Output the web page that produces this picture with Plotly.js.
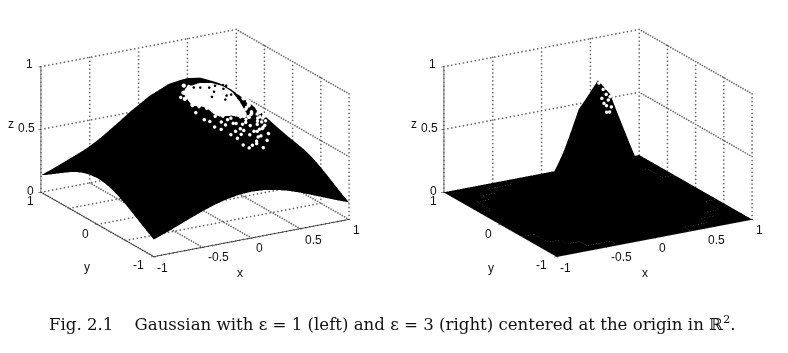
<!DOCTYPE html>
<html><head><meta charset="utf-8"><script src="https://cdn.plot.ly/plotly-3.0.1.min.js"></script>
<style>html,body{margin:0;background:#fff}</style></head><body><div id="c" style="width:788px;height:353px"></div>
<script>
const gridX=[-1,-0.875,-0.75,-0.625,-0.5,-0.375,-0.25,-0.125,0,0.125,0.25,0.375,0.5,0.625,0.75,0.875,1];
const gridY=gridX;
const zLeft=[
[.135,.171,.210,.249,.287,.320,.346,.362,.368,.362,.346,.320,.287,.249,.210,.171,.135],
[.171,.216,.265,.315,.362,.404,.437,.458,.465,.458,.437,.404,.362,.315,.265,.216,.171],
[.210,.265,.325,.386,.444,.495,.535,.561,.570,.561,.535,.495,.444,.386,.325,.265,.210],
[.249,.315,.386,.458,.527,.588,.636,.667,.677,.667,.636,.588,.527,.458,.386,.315,.249],
[.287,.362,.444,.527,.607,.677,.732,.767,.779,.767,.732,.677,.607,.527,.444,.362,.287],
[.320,.404,.495,.588,.677,.755,.816,.856,.869,.856,.816,.755,.677,.588,.495,.404,.320],
[.346,.437,.535,.636,.732,.816,.882,.925,.939,.925,.882,.816,.732,.636,.535,.437,.346],
[.362,.458,.561,.667,.767,.856,.925,.970,.985,.970,.925,.856,.767,.667,.561,.458,.362],
[.368,.465,.570,.677,.779,.869,.939,.985,1.00,.985,.939,.869,.779,.677,.570,.465,.368],
[.362,.458,.561,.667,.767,.856,.925,.970,.985,.970,.925,.856,.767,.667,.561,.458,.362],
[.346,.437,.535,.636,.732,.816,.882,.925,.939,.925,.882,.816,.732,.636,.535,.437,.346],
[.320,.404,.495,.588,.677,.755,.816,.856,.869,.856,.816,.755,.677,.588,.495,.404,.320],
[.287,.362,.444,.527,.607,.677,.732,.767,.779,.767,.732,.677,.607,.527,.444,.362,.287],
[.249,.315,.386,.458,.527,.588,.636,.667,.677,.667,.636,.588,.527,.458,.386,.315,.249],
[.210,.265,.325,.386,.444,.495,.535,.561,.570,.561,.535,.495,.444,.386,.325,.265,.210],
[.171,.216,.265,.315,.362,.404,.437,.458,.465,.458,.437,.404,.362,.315,.265,.216,.171],
[.135,.171,.210,.249,.287,.320,.346,.362,.368,.362,.346,.320,.287,.249,.210,.171,.135]];
const zRight=[
[0,0,0,0,0,0,0,0,0,0,0,0,0,0,0,0,0],
[0,0,0,0,0,0,.001,.001,.001,.001,.001,0,0,0,0,0,0],
[0,0,0,0,.001,.002,.003,.005,.006,.005,.003,.002,.001,0,0,0,0],
[0,0,0,.001,.003,.008,.017,.026,.030,.026,.017,.008,.003,.001,0,0,0],
[0,0,.001,.003,.011,.030,.060,.091,.105,.091,.060,.030,.011,.003,.001,0,0],
[0,0,.002,.008,.030,.080,.161,.245,.282,.245,.161,.080,.030,.008,.002,0,0],
[0,.001,.003,.017,.060,.161,.325,.495,.570,.495,.325,.161,.060,.017,.003,.001,0],
[0,.001,.005,.026,.091,.245,.495,.755,.869,.755,.495,.245,.091,.026,.005,.001,0],
[0,.001,.006,.030,.105,.282,.570,.869,1.00,.869,.570,.282,.105,.030,.006,.001,0],
[0,.001,.005,.026,.091,.245,.495,.755,.869,.755,.495,.245,.091,.026,.005,.001,0],
[0,.001,.003,.017,.060,.161,.325,.495,.570,.495,.325,.161,.060,.017,.003,.001,0],
[0,0,.002,.008,.030,.080,.161,.245,.282,.245,.161,.080,.030,.008,.002,0,0],
[0,0,.001,.003,.011,.030,.060,.091,.105,.091,.060,.030,.011,.003,.001,0,0],
[0,0,0,.001,.003,.008,.017,.026,.030,.026,.017,.008,.003,.001,0,0,0],
[0,0,0,0,.001,.002,.003,.005,.006,.005,.003,.002,.001,0,0,0,0],
[0,0,0,0,0,0,.001,.001,.001,.001,.001,0,0,0,0,0,0],
[0,0,0,0,0,0,0,0,0,0,0,0,0,0,0,0,0]];
// the bright core of the scanned highlight on the left surface: 1 = white
const glowLeft=[
[0,0,0,0,0,0,0,0,0,0,0,0,0,0,0,0,0],[0,0,0,0,0,0,0,0,0,0,0,0,0,0,0,0,0],[0,0,0,0,0,0,0,0,0,0,0,0,0,0,0,0,0],
[0,0,0,0,0,0,0,0,0,0,0,0,0,0,0,0,0],[0,0,0,0,0,0,0,0,0,0,0,0,0,0,0,0,0],
[0,0,0,0,0,0,0,0,1,1,1,0,0,0,0,0,0],
[0,0,0,0,0,0,0,1,1,1,1,0,0,0,0,0,0],
[0,0,0,0,0,0,0,1,1,1,1,0,0,0,0,0,0],
[0,0,0,0,0,0,0,0,0,0,0,0,0,0,0,0,0],
[0,0,0,0,0,0,0,0,0,0,0,0,0,0,0,0,0],[0,0,0,0,0,0,0,0,0,0,0,0,0,0,0,0,0],[0,0,0,0,0,0,0,0,0,0,0,0,0,0,0,0,0],
[0,0,0,0,0,0,0,0,0,0,0,0,0,0,0,0,0],[0,0,0,0,0,0,0,0,0,0,0,0,0,0,0,0,0],[0,0,0,0,0,0,0,0,0,0,0,0,0,0,0,0,0],
[0,0,0,0,0,0,0,0,0,0,0,0,0,0,0,0,0],[0,0,0,0,0,0,0,0,0,0,0,0,0,0,0,0,0]];
// scattered pale specks around that core
const speckTopX=[-.15,-.05,.05,.44,-.2,-.12,-.04,.38,.46,-.22,-.13,-.05,.37,.44,.52,-.2,-.12,-.04,.04,.4,.48,.55];
const speckTopY=[-.06,-.03,-.07,-.05,-.14,-.1,-.13,-.1,-.13,-.2,-.23,-.18,-.22,-.18,-.21,-.3,-.26,-.29,-.37,-.26,-.3,-.27];
const speckTopZ=[.975,.995,.995,.822,.947,.971,.984,.853,.798,.916,.945,.958,.838,.791,.733,.889,.912,.923,.923,.788,.735,.684];
const speckLowX=[-.2,-.1,-.02,.07,.15,.22,.3,.37,.45,.52,-.16,-.06,.04,.13,.21,.3,.38,.46,-.1,0,.09,.18,.27,.36,.44,.02,.12,.22,.3,.38,.1,.2,.3,-.15,-.06,.03,.11,.19,.26,.34,.41,.49,-.12,-.01,.09,.17,.25,.34,.42,-.05,.05,.14,.23,.32,.4,.07,.17,.26,.34,.15,.25,-.24,-.18,-.1,-.06,0,.08,.16,.24,.3,.36,.44,.5,.52,.42,.4,.34,.02,.12,.2,.28,.36,.44,-.02,.08];
const speckLowY=[-.36,-.38,-.35,-.37,-.36,-.35,-.38,-.36,-.37,-.35,-.44,-.46,-.43,-.45,-.44,-.42,-.45,-.44,-.52,-.54,-.52,-.53,-.51,-.52,-.54,-.6,-.61,-.59,-.6,-.62,-.68,-.67,-.69,-.33,-.39,-.32,-.4,-.34,-.39,-.33,-.4,-.35,-.47,-.41,-.48,-.42,-.47,-.4,-.48,-.55,-.49,-.56,-.5,-.55,-.5,-.63,-.57,-.64,-.58,-.7,-.66,-.16,-.22,-.3,-.36,-.4,-.44,-.36,-.4,-.44,-.38,-.34,-.28,-.24,-.22,-.16,-.1,-.46,-.52,-.46,-.56,-.48,-.42,-.5,-.58];
const speckLowZ=[.844,.869,.878,.874,.859,.837,.803,.766,.717,.670,.803,.820,.822,.810,.788,.753,.713,.666,.756,.763,.757,.739,.710,.670,.629,.698,.688,.665,.638,.604,.624,.605,.576,.877,.856,.902,.842,.859,.803,.799,.720,.696,.790,.845,.788,.815,.753,.759,.666,.737,.784,.717,.739,.667,.664,.669,.702,.621,.636,.599,.608,.920,.923,.905,.875,.852,.819,.856,.804,.753,.760,.733,.720,.720,.799,.830,.882,.809,.752,.777,.676,.698,.691,.779,.710];
const speckDarkX=[.05,.15,.2,.1,0,-.05,.12,.08,.22,.17,-.1,.25,.03];
const speckDarkY=[-.25,-.3,-.15,-.18,-.3,-.18,-.33,-.1,-.26,-.21,-.15,-.12,-.2];
const speckDarkZ=[.935,.903,.94,.958,.914,.965,.883,.984,.89,.93,.966,.92,.958];
const speckRightX=[.05,.02,-.02,.06,.08,.04,0,.06,.02,-.02,.02,-.01,.05,-.03,.03,0];
const speckRightY=[-.05,-.04,-.05,-.03,-.06,-.08,-.09,-.11,-.11,-.14,-.17,-.17,-.15,-.12,-.13,-.15];
const speckRightZ=[.956,.982,.974,.960,.914,.931,.930,.868,.893,.835,.768,.770,.799,.871,.852,.816];
const xTicks=[-1,-0.5,0,0.5,1];
const yTicks=[-1,0,1];
const zTicks=[0,0.5,1];
const xShift=[9,16,8,13,7];
const xDrop=[11,10,10,11,11];
const yShift=[-15,-12,-10];
const yDrop=[8,10,9];
const zShift=[-10,-14,-11];
const zDrop=[-1,-1,-3];
const caption="Fig. 2.1 &nbsp; &nbsp;Gaussian with ε = 1 (left) and ε = 3 (right) centered at the origin in ℝ<sup>2</sup>.";
const GRID='#6a6a6a';
function surf(z,scene,glow){const t={type:'surface',x:gridX,y:gridY,z:z,scene:scene,showscale:false,cmin:0,cmax:1,
 colorscale:[[0,'#000'],[0.5,'#000'],[0.5,'#fff'],[1,'#fff']],lighting:{ambient:1,diffuse:0,specular:0,fresnel:0},hoverinfo:'skip',contours:{x:{highlight:false},y:{highlight:false},z:{highlight:false}}};
 if(glow)t.surfacecolor=glow;else{t.colorscale=[[0,'#000'],[1,'#000']];}return t;}
function specks(x,y,z,size,color,lift,scene){return {type:'scatter3d',mode:'markers',x:x,y:y,z:z.map(v=>v+lift),scene:scene,hoverinfo:'skip',
 marker:{size:size,color:color,line:{width:0},opacity:1}};}
function grid(scene,floor){
 const xs=[],ys=[],zs=[];
 const add=(a,b)=>{const n=Math.round(Math.max(Math.abs(b[0]-a[0])*25,Math.abs(b[1]-a[1])*25,Math.abs(b[2]-a[2])*32));
  for(let i=0;i<=n;i++){const f=i/n;xs.push(a[0]+(b[0]-a[0])*f);ys.push(a[1]+(b[1]-a[1])*f);zs.push(a[2]+(b[2]-a[2])*f);}};
 xTicks.forEach(t=>{if(floor)add([t,-1,0],[t,1,0]);add([t,1,0],[t,1,1]);});
 xTicks.forEach(t=>{if(floor)add([-1,t,0],[1,t,0]);add([1,t,0],[1,t,1]);});
 zTicks.forEach(t=>{if(t>0||floor){add([-1,1,t],[1,1,t]);add([1,1,t],[1,-1,t]);}});
 return {type:'scatter3d',mode:'markers',x:xs,y:ys,z:zs,scene:scene,hoverinfo:'skip',marker:{color:GRID,size:1,line:{width:0},opacity:1}};
}
const tf={family:'Liberation Sans, Arial, sans-serif',size:12,color:'#111'};
function axis(vals,rng){return {range:rng,tickmode:'array',tickvals:vals,showticklabels:false,title:{text:''},
 showgrid:false,showline:true,linecolor:'#111',linewidth:1.5,mirror:false,ticks:'outside',ticklen:3,tickcolor:'#111',
 showbackground:false,zeroline:false,showspikes:false,autorange:false};}
function ann(t,x,y,z,dx,dy){return {text:t,x:x,y:y,z:z,xshift:dx,yshift:-dy,showarrow:false,font:tf,xanchor:'center',yanchor:'middle'};}
function sceneAnn(){return [].concat(
 xTicks.map((t,i)=>ann(String(t),t,-1,0,xShift[i],xDrop[i])),
 yTicks.map((t,i)=>ann(String(t),-1,t,0,yShift[i],yDrop[i])),
 zTicks.map((t,i)=>ann(String(t),-1,1,t,zShift[i],zDrop[i])));}
function scene(dom){return {domain:dom,aspectmode:'manual',aspectratio:{x:1.577,y:1.577,z:0.93},
 camera:{projection:{type:'orthographic'},eye:{x:-0.63,y:-1.09,z:0.44},center:{x:0,y:0,z:0},up:{x:0,y:0,z:1}},
 xaxis:axis(xTicks,[-1,1]),yaxis:axis(yTicks,[-1,1]),zaxis:axis(zTicks,[0,1]),bgcolor:'rgba(0,0,0,0)',annotations:sceneAnn()};}
function lab(t,x,y){return {text:t,x:x/788,y:1-y/353,xref:'paper',yref:'paper',showarrow:false,font:tf,xanchor:'center',yanchor:'middle'};}
const layout={width:788,height:353,margin:{l:0,r:0,t:0,b:0},paper_bgcolor:'#fff',showlegend:false,
 scene:scene({x:[5/788,385/788],y:[1-286/353,1]}),scene2:scene({x:[408/788,1],y:[1-286/353,1]}),
 annotations:[lab('x',240,273),lab('y',87,267),lab('z',11,124),lab('x',645,273),lab('y',491,268),lab('z',414,124),
 {text:caption,x:392/788,y:1-323/353,xref:'paper',yref:'paper',showarrow:false,xanchor:'center',yanchor:'middle',font:{family:'DejaVu Serif, serif',size:16.6,color:'#111'}}]};
Plotly.newPlot('c',[grid('scene',true),grid('scene2',false),surf(zLeft,'scene',glowLeft),surf(zRight,'scene2'),
 specks(speckTopX,speckTopY,speckTopZ,2.5,'#fff',0.02,'scene'),specks(speckLowX,speckLowY,speckLowZ,2,'#fff',0.02,'scene'),specks(speckDarkX,speckDarkY,speckDarkZ,1.5,'#000',0.03,'scene'),specks(speckRightX,speckRightY,speckRightZ,2,'#fff',0.02,'scene2')],layout,{displayModeBar:false});
</script></body></html>
